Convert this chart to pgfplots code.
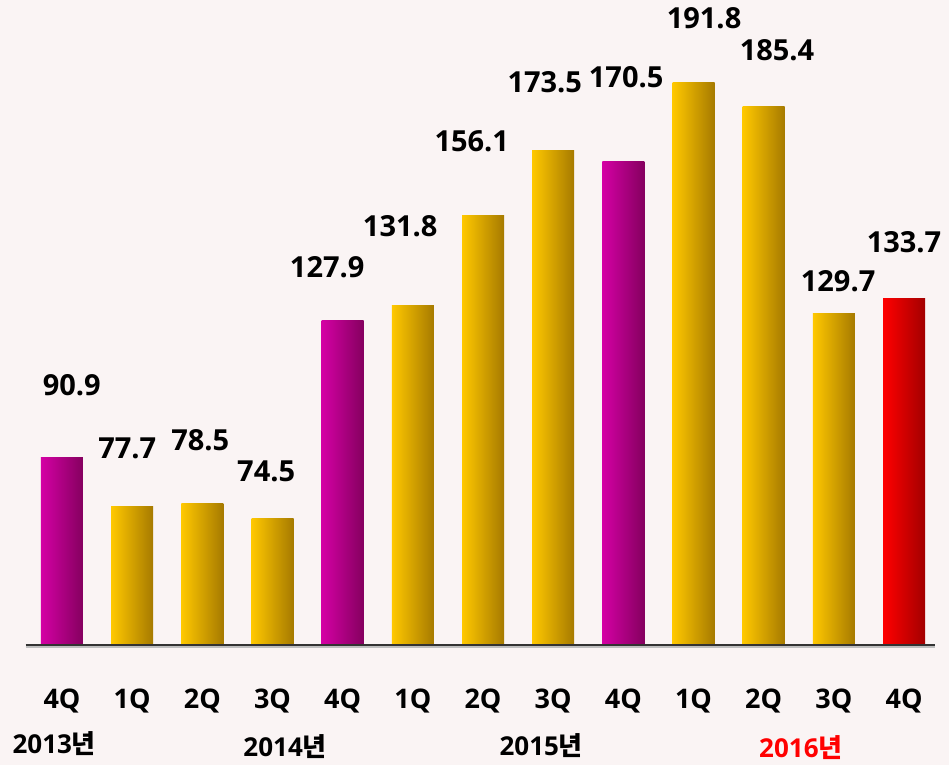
\documentclass[border=0pt]{standalone}
\usepackage{pgfplots}
\pgfplotsset{compat=1.18}
\usepackage{pgfplotstable}
\usepackage{fontspec}
\setmainfont{Open Sans}
\newfontfamily\kr{Noto Sans CJK KR}
\definecolor{bg}{HTML}{FAF4F4}
\definecolor{magL}{HTML}{D400A4}
\definecolor{magR}{HTML}{85005F}
\definecolor{goldL}{HTML}{FFC800}
\definecolor{goldR}{HTML}{A67A00}
\definecolor{redL}{HTML}{FF0000}
\definecolor{redR}{HTML}{A30000}

\pgfplotstableread{
x y label
0.14 110.5 90.9
0.93 93.4 77.7
1.97 95.6 78.5
2.91 87.2 74.5
3.78 142.1 127.9
4.82 153.2 131.8
5.84 176.1 156.1
6.88 191.8 173.5
8.04 193.2 170.5
9.15 209.1 191.8
10.19 200.5 185.4
11.06 138.3 129.7
12.00 148.8 133.7
}\labels

\begin{document}
\begin{tikzpicture}
\fill[bg] (0,0) rectangle (949pt,765pt);
\begin{axis}[
  at={(25.5pt,120pt)}, anchor=south west,
  scale only axis,
  width=909.4pt, height=645pt,
  xmin=-0.52, xmax=12.44,
  ymin=40.5, ymax=214.0,
  axis y line=none,
  axis x line*=bottom,
  x axis line style={draw=none},
  xtick={0,...,12},
  xticklabels={4Q,1Q,2Q,3Q,4Q,1Q,2Q,3Q,4Q,1Q,2Q,3Q,4Q},
  major tick length=0pt,
  xticklabel style={font=\fontsize{27}{30}\selectfont\bfseries, yshift=-40pt},
  clip=false,
  mag/.style={ybar, bar width=42pt, bar shift=0pt, draw=none, left color=magL, right color=magR},
  gold/.style={ybar, bar width=42pt, bar shift=0pt, draw=none, left color=goldL, right color=goldR},
  redb/.style={ybar, bar width=42pt, bar shift=0pt, draw=none, left color=redL, right color=redR},
]
\addplot[mag]  coordinates {(0,90.9)};
\addplot[gold] coordinates {(1,77.7)};
\addplot[gold] coordinates {(2,78.5)};
\addplot[gold] coordinates {(3,74.5)};
\addplot[mag]  coordinates {(4,127.9)};
\addplot[gold] coordinates {(5,131.8)};
\addplot[gold] coordinates {(6,156.1)};
\addplot[gold] coordinates {(7,173.5)};
\addplot[mag]  coordinates {(8,170.5)};
\addplot[gold] coordinates {(9,191.8)};
\addplot[gold] coordinates {(10,185.4)};
\addplot[gold] coordinates {(11,129.7)};
\addplot[redb] coordinates {(12,133.7)};
\draw[black!25, line width=1.5pt] ([yshift=-2pt]axis cs:-0.52,40.5) -- ([yshift=-2pt]axis cs:12.44,40.5);
\draw[black!80, line width=2.5pt] (axis cs:-0.52,40.5) -- (axis cs:12.44,40.5);
\addplot[draw=none, mark=none, nodes near coords, point meta=explicit symbolic,
  nodes near coords style={anchor=center, font=\fontsize{29}{32}\selectfont\bfseries, text=black}]
  table[x=x, y=y, meta=label] {\labels};
\node[font=\fontsize{26}{30}\selectfont\bfseries] at ([yshift=-99pt]axis cs:-0.11,40.5) {2013{\kr\bfseries 년}};
\node[font=\fontsize{26}{30}\selectfont\bfseries] at ([yshift=-102pt]axis cs:3.18,40.5) {2014{\kr\bfseries 년}};
\node[font=\fontsize{26}{30}\selectfont\bfseries] at ([yshift=-101pt]axis cs:6.83,40.5) {2015{\kr\bfseries 년}};
\node[font=\fontsize{26}{30}\selectfont\bfseries, text=red] at ([yshift=-103pt]axis cs:10.53,40.5) {2016{\kr\bfseries 년}};
\end{axis}
\pgfresetboundingbox
\path[use as bounding box] (0,0) rectangle (949pt,765pt);
\end{tikzpicture}
\end{document}
